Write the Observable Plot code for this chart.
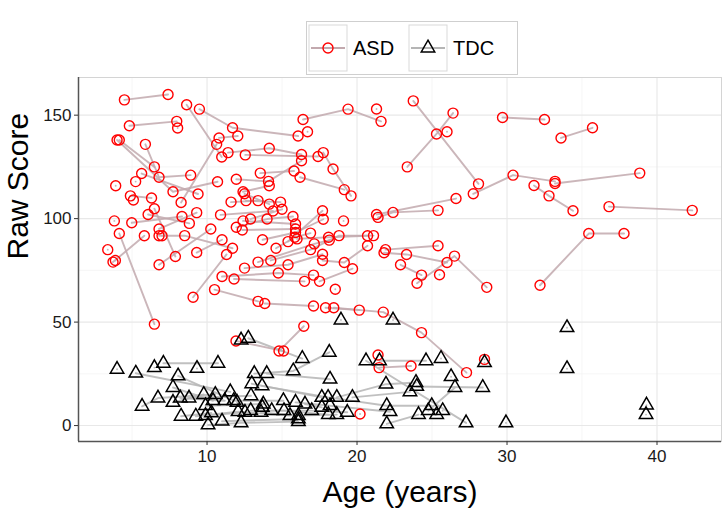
<!DOCTYPE html>
<html>
<head>
<meta charset="utf-8">
<script src="https://cdn.jsdelivr.net/npm/d3@7"></script>
<script src="https://cdn.jsdelivr.net/npm/@observablehq/plot@0.6"></script>
<style>
  body { margin: 0; background: #fff; font-family: "Liberation Sans", Arial, sans-serif; }
  #wrap { position: relative; width: 723px; height: 508px; overflow: hidden; }
  #chart { position: absolute; left: 0; top: 0; }
  #legend { position: absolute; left: 305px; top: 20px; }
</style>
</head>
<body>
<div id="wrap">
  <div id="chart"></div>
  <div id="legend"></div>
</div>
<script>
// ---- data: each subject is a list of [age, rawScore] visits ----
const asdSubjects = [
  [[4.49,157.4],[7.4,160]],
  [[4.82,144.9],[7.98,147]],
  [[8.64,155],[10.98,129.8]],
  [[9.49,152.9],[11.7,143.9],[16.07,139.9]],
  [[4.0,138],[7.73,113],[10.7,117.8]],
  [[4.15,138],[6.49,125]],
  [[5.89,135.9],[6.8,120],[8.91,121]],
  [[8.04,143.8]],
  [[10.8,139],[12.05,139.9]],
  [[8.27,107.8],[10.64,135.9]],
  [[3.91,115.9]],
  [[4.98,98],[8.33,101]],
  [[4.15,92.8],[6.49,49]],
  [[3.73,79],[5.82,91.7]],
  [[6.49,104.8],[7.89,81.7]],
  [[6.8,77.7],[10.25,95]],
  [[9.07,62],[11.3,82.7]],
  [[9.31,83.6],[11.0,89.8]],
  [[5.64,121.8],[9.4,111.9]],
  [[4.89,111],[6.3,110]],
  [[5.09,109]],
  [[3.82,98.9]],
  [[3.38,85]],
  [[3.89,79.8]],
  [[5.24,117.9]],
  [[6.07,102],[8.82,97.7]],
  [[6.8,95],[9.31,102.9]],
  [[6.8,91.7],[8.51,91.8],[11.7,85.7]],
  [[7.0,91.7]],
  [[11.4,131.9],[14.15,134],[16.3,131]],
  [[12.55,130.8],[17.4,130]],
  [[16.4,147.9],[19.4,152.9],[21.6,147]],
  [[16.7,142]],
  [[21.3,153]],
  [[11.95,119],[14.1,118],[16.3,128]],
  [[13.55,122],[15.8,123]],
  [[16.2,120],[19.15,114]],
  [[17.75,131.9],[18.4,124],[19.6,111]],
  [[12.4,113],[14.15,115.9]],
  [[12.5,112],[14.15,107]],
  [[12.6,108.7],[14.9,108]],
  [[11.6,108],[13.4,108.7]],
  [[10.9,101.8],[14.4,103.7]],
  [[12.9,99.8],[15.0,104.5]],
  [[11.95,95.8],[14.0,99.8],[15.73,101]],
  [[12.4,98.9],[15.9,97.4]],
  [[12.35,94.5],[15.9,95]],
  [[13.7,89.8],[15.9,93.3],[17.75,99.7]],
  [[15.4,88.9],[17.7,103.8]],
  [[14.6,85.7],[15.85,91],[16.9,93]],
  [[16.0,90.2],[18.1,91],[20.7,91.7]],
  [[13.4,79],[17.15,87.8],[18.15,89.6]],
  [[14.25,79.8],[16.9,85],[18.8,91.8],[21.1,91.8]],
  [[12.5,76.1],[15.4,77.7],[17.7,82.8]],
  [[11.0,72],[14.75,73.7],[17.1,72.7]],
  [[11.8,70.8],[16.5,69.7]],
  [[17.5,69.7],[19.7,75.8]],
  [[17.7,79.8],[19.15,78.8],[20.7,86.9]],
  [[10.5,65.7],[13.4,60]],
  [[13.85,59],[17.1,57.8]],
  [[17.9,56.9],[20.15,55.8]],
  [[18.45,56.9],[21.75,54.8],[24.3,44.9],[27.3,25.6]],
  [[18.55,65.9]],
  [[14.8,36],[16.45,48]],
  [[11.93,40.9],[15.1,36]],
  [[21.47,28],[23.6,28.8]],
  [[21.4,34.1]],
  [[28.5,32]],
  [[20.2,5.6]],
  [[21.3,102],[26.6,109.7]],
  [[21.4,100.6],[22.4,103],[25.4,104]],
  [[19.1,98.9]],
  [[21.9,85],[25.4,86.9]],
  [[21.8,83.5],[23.3,82.7],[26.0,78.8]],
  [[22.9,77.7],[24.3,72.7]],
  [[24.0,68.8],[26.5,81.9],[28.65,66.8]],
  [[25.5,72.9]],
  [[23.75,156.9],[28.1,116.8]],
  [[23.35,125],[25.3,140.9],[26.4,151]],
  [[26.0,142]],
  [[29.7,148.9],[32.5,147.9]],
  [[27.75,112],[30.4,121],[33.2,118]],
  [[31.8,116],[32.8,111],[34.4,103.8]],
  [[33.6,139],[35.7,143.9]],
  [[33.2,117],[38.85,122]],
  [[36.8,105.8],[42.35,104]],
  [[32.2,67.8],[35.45,92.8],[37.8,92.8]]
];

const tdcSubjects = [
  [[4.0,27.2]],
  [[5.25,25.3],[11.55,16.3]],
  [[7.09,30.1],[10.73,30.1]],
  [[6.49,28]],
  [[5.67,9.3],[6.73,13.3],[10.55,15]],
  [[7.73,11.2],[9.78,15]],
  [[8.07,24],[11.78,12],[15.09,12]],
  [[7.73,18.4],[10.4,12]],
  [[8.22,13.3],[11.18,12]],
  [[8.8,13.3],[12.93,14.4]],
  [[8.27,4.5],[10.29,6.1]],
  [[9.25,4.5],[12.07,6.7],[15.53,4.8]],
  [[9.9,9.6],[13.75,10.4]],
  [[9.9,4.8],[12.53,6.4]],
  [[10.07,0.3],[12.27,1.3],[16.09,1.9]],
  [[11.0,2.1],[16.09,3.2]],
  [[12.27,41.3]],
  [[12.75,42.2],[16.35,32.4]],
  [[13.15,25.1],[15.75,26.4],[18.15,35.4]],
  [[13.98,25.1],[18.2,22.4]],
  [[12.98,20.2],[17.65,13.6]],
  [[13.67,19.2],[18.07,13.6],[21.98,9.6],[24.98,9.6]],
  [[9.33,27.6]],
  [[12.91,7.2],[15.13,7.2],[18.09,5.3]],
  [[13.6,6.4],[16.09,4.8],[18.65,5.3]],
  [[14.31,7.2],[16.98,7.2],[19.35,6.4]],
  [[15.9,11.2],[18.2,9.6],[22.2,6.7]],
  [[16.53,10.4],[17.65,8.8]],
  [[18.65,13.6],[21.93,20],[23.93,20.8]],
  [[19.69,13.6],[23.53,16.3]],
  [[22.4,51]],
  [[18.93,51]],
  [[21.5,31.3],[24.6,31.3]],
  [[20.6,31.3],[27.27,1.3]],
  [[23.98,18.9],[28.38,18.4]],
  [[24.75,7.2],[26.53,18.4]],
  [[21.98,0.8],[24.1,5.3]],
  [[26.27,23.6]],
  [[25.71,7.2]],
  [[25.31,5.3]],
  [[25.6,32.4]],
  [[28.5,30.4]],
  [[29.93,1.3]],
  [[12.0,11.2]],
  [[13.69,8.8]],
  [[34.0,47.3]],
  [[34.0,27.5]],
  [[39.3,9.9]],
  [[39.27,5.3]]
];

const groups = ["ASD", "TDC"];
const xTicks = [10, 20, 30, 40];
const xMinor = [5, 15, 25, 35];
const yTicks = [0, 50, 100, 150];
const yMinor = [25, 75, 125];
const xDomain = [1.43, 44.3];
const yDomain = [-7.7, 168.2];

function rows(subjects, prefix, group) {
  return subjects.flatMap((pts, i) =>
    pts.map(([age, score]) => ({ id: prefix + i, group, age, score })));
}
const asd = rows(asdSubjects, "a", groups[0]);
const tdc = rows(tdcSubjects, "t", groups[1]);

const asdLine = "#c2a9ae";
const tdcLine = "#b5b5b5";

const chart = Plot.plot({
  width: 723,
  height: 508,
  marginTop: 77,
  marginBottom: 67,
  marginLeft: 78,
  marginRight: 2,
  style: { fontFamily: "Liberation Sans, Arial, sans-serif", background: "#fff" },
  x: { domain: xDomain },
  y: { domain: yDomain },
  marks: [
    Plot.ruleX(xMinor, { stroke: "#f2f2f2", strokeWidth: 0.7 }),
    Plot.ruleY(yMinor, { stroke: "#f2f2f2", strokeWidth: 0.7 }),
    Plot.ruleX(xTicks, { stroke: "#e8e8e8", strokeWidth: 1.1 }),
    Plot.ruleY(yTicks, { stroke: "#e8e8e8", strokeWidth: 1.1 }),
    Plot.frame({ stroke: "#d4d4d4" }),
    Plot.line(asd, { x: "age", y: "score", z: "id", stroke: asdLine, strokeWidth: 1.9, strokeOpacity: 0.85 }),
    Plot.line(tdc, { x: "age", y: "score", z: "id", stroke: tdcLine, strokeWidth: 1.9, strokeOpacity: 0.85 }),
    Plot.dot(asd, { x: "age", y: "score", r: 5, stroke: "#ff0000", strokeWidth: 1.4, fill: "none" }),
    Plot.dot(tdc, { x: "age", y: "score", r: 5, symbol: "triangle", stroke: "#000", strokeWidth: 1.5, fill: "none" }),
    Plot.ruleY([yDomain[0]], { stroke: "#555", strokeWidth: 1.5 }),
    Plot.ruleX([xDomain[0]], { stroke: "#555", strokeWidth: 1.5 }),
    Plot.axisX({ ticks: xTicks, tickSize: 4, tickPadding: 4, fontSize: 17, label: null, stroke: "#333", color: "#1a1a1a" }),
    Plot.axisY({ ticks: yTicks, tickSize: 4, tickPadding: 3, fontSize: 17, label: null, stroke: "#333", color: "#1a1a1a" }),
    Plot.text(["Age (years)"], { frameAnchor: "bottom", lineAnchor: "middle", dy: 51, fontSize: 30, fill: "#000" }),
    Plot.text(["Raw Score"], { frameAnchor: "left", lineAnchor: "middle", rotate: -90, dx: -60, fontSize: 30, fill: "#000" })
  ]
});
document.getElementById("chart").appendChild(chart);

// ---- legend ----
const legendItems = [
  { label: groups[0], line: asdLine, kind: "circle" },
  { label: groups[1], line: tdcLine, kind: "triangle" }
];
const lg = d3.create("svg").attr("width", 214).attr("height", 56)
  .style("font-family", "Liberation Sans, Arial, sans-serif");
lg.append("rect").attr("x", 1.5).attr("y", 1.5).attr("width", 211).attr("height", 53)
  .attr("fill", "#fff").attr("stroke", "#cfcfcf");
legendItems.forEach((it, i) => {
  const x0 = 4 + i * 100;
  const g = lg.append("g").attr("transform", `translate(${x0},5)`);
  g.append("rect").attr("x", 0).attr("y", 0).attr("width", 38).attr("height", 46)
    .attr("fill", "#fff").attr("stroke", "#d9d9d9");
  g.append("line").attr("x1", 2).attr("x2", 36).attr("y1", 23).attr("y2", 23)
    .attr("stroke", it.line).attr("stroke-width", 1.8);
  if (it.kind === "circle") {
    g.append("circle").attr("cx", 19).attr("cy", 23).attr("r", 5)
      .attr("fill", "none").attr("stroke", "#ff0000").attr("stroke-width", 1.4);
  } else {
    g.append("path").attr("d", d3.symbol(d3.symbolTriangle, Math.PI * 25)())
      .attr("transform", "translate(19,23)")
      .attr("fill", "none").attr("stroke", "#000").attr("stroke-width", 1.5);
  }
  g.append("text").attr("x", 44).attr("y", 23).attr("dy", "0.35em")
    .attr("font-size", 20).attr("fill", "#000").text(it.label);
});
document.getElementById("legend").appendChild(lg.node());
</script>
</body>
</html>
